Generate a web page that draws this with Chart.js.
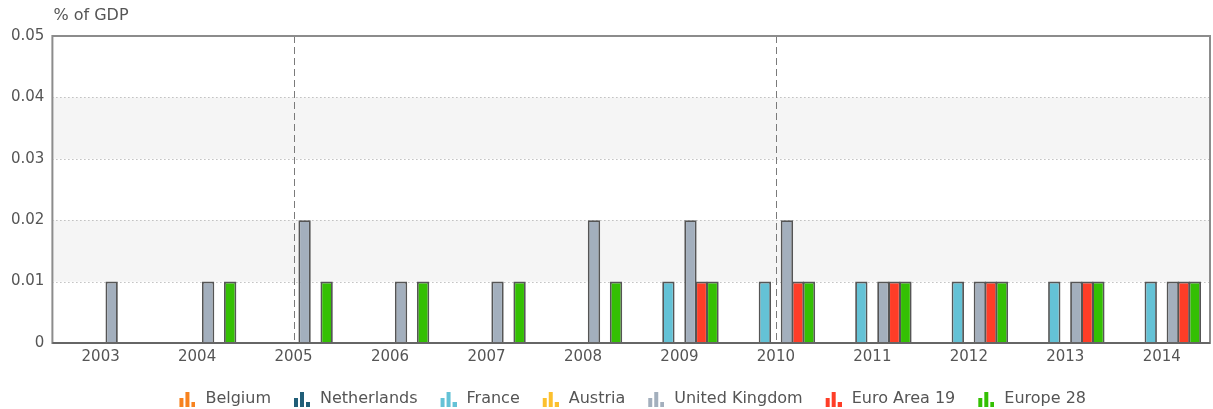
<!DOCTYPE html>
<html>
<head>
<meta charset="utf-8">
<title>% of GDP</title>
<script src="https://cdn.jsdelivr.net/npm/chart.js@4"></script>
<style>
  html, body { margin: 0; padding: 0; background: #fff; }
  #wrap { width: 1213px; height: 409px; position: relative; }
</style>
</head>
<body>
<div id="wrap"><canvas id="myChart"></canvas></div>
<script>
'use strict';

//--------------------DATA
let years = ['2003', '2004', '2005', '2006', '2007', '2008', '2009', '2010', '2011', '2012', '2013', '2014'];
let seriesNames = ['Belgium', 'Netherlands', 'France', 'Austria', 'United Kingdom', 'Euro Area 19', 'Europe 28'];

let belgium = [null, null, null, null, null, null, null, null, null, null, null, null];
let netherlands = [null, null, null, null, null, null, null, null, null, null, null, null];
let france = [null, null, null, null, null, null, 0.01, 0.01, 0.01, 0.01, 0.01, 0.01];
let austria = [null, null, null, null, null, null, null, null, null, null, null, null];
let unitedKingdom = [0.01, 0.01, 0.02, 0.01, 0.01, 0.02, 0.02, 0.02, 0.01, 0.01, 0.01, 0.01];
let euroArea19 = [null, null, null, null, null, null, 0.01, 0.01, 0.01, 0.01, 0.01, 0.01];
let europe28 = [null, 0.01, 0.01, 0.01, 0.01, 0.01, 0.01, 0.01, 0.01, 0.01, 0.01, 0.01];

let yTicks = [0, 0.01, 0.02, 0.03, 0.04, 0.05];
let markedYears = ['2005', '2010'];

let seriesColors = ['#f7821f', '#215e78', '#64c2d6', '#fcc02e', '#a3afbd', '#fe3d27', '#34c003'];
let allValues = [belgium, netherlands, france, austria, unitedKingdom, euroArea19, europe28];

//--------------------LEGEND ICONS
function makeIcon(color) {
  let c = document.createElement('canvas');
  c.width = 17;
  c.height = 16;
  let g = c.getContext('2d');
  g.fillStyle = color;
  g.fillRect(1, 7, 4, 9);
  g.fillRect(7, 1, 4, 15);
  g.fillRect(13, 11, 4, 5);
  return c;
}

let icons = seriesColors.map(makeIcon);

//--------------------PLUGINS
let backdrop = {
  id: 'backdrop',
  beforeDatasetsDraw(chart) {
    let ctx = chart.ctx;
    let area = chart.chartArea;
    let y = chart.scales.y;
    let x = chart.scales.x;
    ctx.save();

    // alternating bands
    ctx.fillStyle = '#f5f5f5';
    for (let i = 1; i < yTicks.length - 1; i += 2) {
      let top = y.getPixelForValue(yTicks[i + 1]);
      let bottom = y.getPixelForValue(yTicks[i]);
      ctx.fillRect(area.left, top, area.right - area.left, bottom - top);
    }

    // dotted grid lines
    ctx.strokeStyle = '#a0a0a0';
    ctx.lineWidth = 1;
    ctx.setLineDash([1, 3]);
    for (let i = 1; i < yTicks.length - 1; i++) {
      let py = Math.round(y.getPixelForValue(yTicks[i])) + 0.5;
      ctx.beginPath();
      ctx.moveTo(area.left, py);
      ctx.lineTo(area.right, py);
      ctx.stroke();
    }

    // dashed markers
    ctx.strokeStyle = '#7a7a7a';
    ctx.setLineDash([7, 4]);
    for (let i = 0; i < markedYears.length; i++) {
      let px = Math.round(x.getPixelForValue(years.indexOf(markedYears[i]))) + 0.5;
      ctx.beginPath();
      ctx.moveTo(px, area.top);
      ctx.lineTo(px, area.bottom);
      ctx.stroke();
    }
    ctx.restore();
  },
  afterDatasetsDraw(chart) {
    let ctx = chart.ctx;
    let area = chart.chartArea;
    ctx.save();
    ctx.strokeStyle = '#8c8c8c';
    ctx.lineWidth = 2;
    ctx.strokeRect(area.left, area.top, area.right - area.left, area.bottom - area.top);
    ctx.strokeStyle = '#666';
    ctx.beginPath();
    ctx.moveTo(area.left, area.bottom);
    ctx.lineTo(area.right, area.bottom);
    ctx.stroke();
    ctx.restore();
  },
  afterDraw(chart) {
    let ctx = chart.ctx;
    ctx.save();
    ctx.fillStyle = '#555';
    ctx.font = '16px "DejaVu Sans"';
    ctx.textBaseline = 'middle';
    ctx.fillText('% of GDP', chart.chartArea.left + 1, 16);
    ctx.restore();
  }
};

//--------------------CHART
let canvasElem = document.getElementById('myChart');

let datasets = [];
for (let i = 0; i < seriesNames.length; i++) {
  datasets.push({
    label: seriesNames[i],
    data: allValues[i],
    backgroundColor: seriesColors[i],
    borderColor: '#555',
    borderWidth: 1.8,
    categoryPercentage: 0.8,
    barPercentage: 1.12,
  });
}

let myObj = {
  type: 'bar',
  data: {
    labels: years,
    datasets: datasets,
  },
  options: {
    responsive: true,
    maintainAspectRatio: false,
    animation: false,
    layout: {
      padding: { top: 36, right: 3, left: 3, bottom: -8 },
    },
    plugins: {
      tooltip: { enabled: false },
      legend: {
        position: 'bottom',
        fullSize: false,
        labels: {
          usePointStyle: true,
          pointStyleWidth: 21,
          color: '#555',
          font: { family: 'DejaVu Sans', size: 16 },
          padding: 20,
          generateLabels(chart) {
            let items = Chart.defaults.plugins.legend.labels.generateLabels(chart);
            items.forEach(function (item, i) {
              item.pointStyle = icons[i];
            });
            return items;
          },
        },
      },
    },
    scales: {
      x: {
        grid: { display: false, drawTicks: false },
        border: { display: false },
        ticks: {
          color: '#555',
          font: { family: 'DejaVu Sans', size: 15, lineHeight: 0.4 },
          padding: 11,
        },
      },
      y: {
        min: 0,
        max: 0.05,
        grid: { display: false, drawTicks: false },
        border: { display: false },
        afterBuildTicks(axis) {
          axis.ticks = yTicks.map(function (v) { return { value: v }; });
        },
        ticks: {
          color: '#555',
          font: { family: 'DejaVu Sans', size: 15 },
          padding: 8,
          callback(value) {
            return value === 0 ? '0' : value.toFixed(2);
          },
        },
      },
    },
  },
  plugins: [backdrop],
};

new Chart(canvasElem, myObj);
</script>
</body>
</html>
